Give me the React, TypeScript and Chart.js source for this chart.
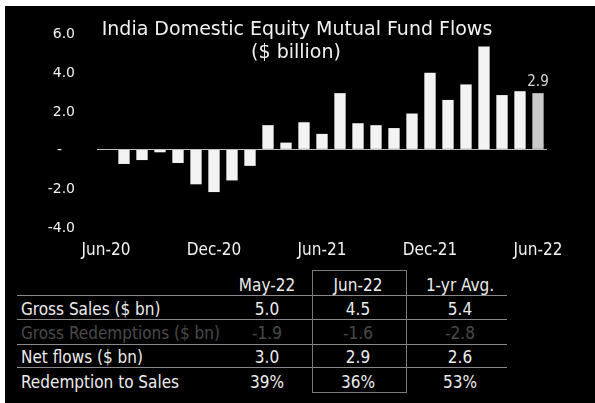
import React, { useEffect, useRef } from "react";
import { Chart, registerables } from "chart.js";

Chart.register(...registerables);

const categories = [
  "Jun-20", "Jul-20", "Aug-20", "Sep-20", "Oct-20", "Nov-20", "Dec-20",
  "Jan-21", "Feb-21", "Mar-21", "Apr-21", "May-21", "Jun-21", "Jul-21",
  "Aug-21", "Sep-21", "Oct-21", "Nov-21", "Dec-21", "Jan-22", "Feb-22",
  "Mar-22", "Apr-22", "May-22", "Jun-22",
];
const netFlows = [
  -0.03, -0.75, -0.55, -0.15, -0.7, -1.8, -2.2, -1.6, -0.85, 1.25, 0.35, 1.4,
  0.8, 2.9, 1.35, 1.25, 1.1, 1.85, 3.95, 2.55, 3.35, 5.3, 2.8, 3.0, 2.9,
];
const titleLines = ["India Domestic Equity Mutual Fund Flows", "($ billion)"];
const lastLabel = "2.9";

const tableColumns = ["May-22", "Jun-22", "1-yr Avg."];
const tableRowLabels = [
  "Gross Sales ($ bn)",
  "Gross Redemptions ($ bn)",
  "Net flows ($ bn)",
  "Redemption to Sales",
];
const grossSales = ["5.0", "4.5", "5.4"];
const grossRedemptions = ["-1.9", "-1.6", "-2.8"];
const netFlowsRow = ["3.0", "2.9", "2.6"];
const redemptionToSales = ["39%", "36%", "53%"];
const tableRows = [grossSales, grossRedemptions, netFlowsRow, redemptionToSales];

const SANS = "'DejaVu Sans', sans-serif";
const COND = "'DejaVu Sans Condensed', 'DejaVu Sans', sans-serif";

export default function App() {
  const canvasRef = useRef<HTMLCanvasElement | null>(null);

  useEffect(() => {
    const canvas = canvasRef.current;
    if (!canvas) return;
    const n = categories.length;
    const overlay = {
      id: "overlay",
      afterDraw(chart: any) {
        const ctx = chart.ctx;
        ctx.save();
        // title
        ctx.fillStyle = "#f2f2f2";
        ctx.textAlign = "center";
        ctx.textBaseline = "alphabetic";
        ctx.font = `19px ${SANS}`;
        ctx.fillText(titleLines[0], 292, 28.5);
        ctx.fillText(titleLines[1], 291, 52);
        // y tick labels
        const ys = chart.scales.y;
        ctx.font = `14px ${SANS}`;
        ys.ticks.forEach((t: any) => {
          const py = ys.getPixelForValue(t.value);
          if (t.value === 0) {
            ctx.textAlign = "center";
            ctx.fillText("-", 54.5, py + 5);
          } else {
            ctx.textAlign = "right";
            ctx.fillText(Number(t.value).toFixed(1), 70, py + 5);
          }
        });
        // x tick labels
        const xs = chart.scales.x;
        ctx.font = `17px ${COND}`;
        ctx.textAlign = "center";
        categories.forEach((c, i) => {
          if (i % 6 === 0) ctx.fillText(c, xs.getPixelForValue(i), 249);
        });
        // last bar label
        const meta = chart.getDatasetMeta(0);
        const bar = meta.data[n - 1];
        ctx.font = `15px ${COND}`;
        ctx.fillStyle = "#d8d8d8";
        ctx.textBaseline = "alphabetic";
        ctx.fillText(lastLabel, bar.x, bar.y - 7);
        ctx.restore();
      },
    };
    const chart = new Chart(canvas, {
      type: "bar",
      data: {
        labels: categories,
        datasets: [
          {
            data: netFlows,
            backgroundColor: categories.map((_, i) => (i === n - 1 ? "#c9c9c9" : "#f3f3f3")),
            borderWidth: 0,
            barPercentage: 0.63,
            categoryPercentage: 1,
          },
        ],
      },
      options: {
        responsive: false,
        animation: false,
        layout: { padding: { top: 27, right: 48, left: 0, bottom: 0 } },
        plugins: { legend: { display: false }, tooltip: { enabled: false }, title: { display: false } },
        scales: {
          x: {
            grid: { display: false },
            border: { display: false },
            ticks: { display: false },
            afterFit: (s: any) => {
              s.height = 39;
            },
          },
          y: {
            min: -4,
            max: 6,
            border: { display: false },
            grid: {
              drawTicks: false,
              color: (c: any) => (c.tick && c.tick.value === 0 ? "#bdbdbd" : "rgba(0,0,0,0)"),
              lineWidth: 1,
            },
            ticks: { display: false, stepSize: 2 },
            afterFit: (s: any) => {
              s.width = 92;
            },
          },
        },
      },
      plugins: [overlay],
    });
    return () => chart.destroy();
  }, []);

  const colCenters = [262, 353, 455];
  const headerY = 279;
  const rowYs = [303.3, 326.7, 351.3, 375.7];
  const lineYs = [289, 313.3, 338, 361.3];
  const textStyle = (color: string): React.CSSProperties => ({
    position: "absolute",
    height: 20,
    lineHeight: "20px",
    fontFamily: COND,
    fontSize: 17,
    color,
    whiteSpace: "nowrap",
  });

  return (
    <div style={{ position: "fixed", left: 0, top: 0, width: 595, height: 403, background: "#ffffff", overflow: "hidden" }}>
      <div style={{ position: "absolute", left: 5, top: 6, width: 590, height: 397, background: "#000000" }}>
        <canvas ref={canvasRef} width={590} height={260} style={{ position: "absolute", left: 0, top: 0, width: 590, height: 260 }} />
        {lineYs.map((y, i) => (
          <div key={"l" + i} style={{ position: "absolute", left: 12, top: y, width: 490, height: 1, background: "#8a8a8a" }} />
        ))}
        <div style={{ position: "absolute", left: 307, top: 264, width: 95, height: 123, border: "1px solid #7a7a7a", boxSizing: "border-box" }} />
        {tableColumns.map((c, j) => (
          <div key={"h" + j} style={{ ...textStyle("#ededed"), left: colCenters[j] - 50, width: 100, textAlign: "center", top: headerY - 10 }}>
            {c}
          </div>
        ))}
        {tableRowLabels.map((label, i) => {
          const color = i === 1 ? "#4a4a4a" : "#ededed";
          return (
            <React.Fragment key={"r" + i}>
              <div style={{ ...textStyle(color), left: 16, top: rowYs[i] - 10 }}>{label}</div>
              {tableRows[i].map((v, j) => (
                <div key={"c" + j} style={{ ...textStyle(color), left: colCenters[j] - 50, width: 100, textAlign: "center", top: rowYs[i] - 10 }}>
                  {v}
                </div>
              ))}
            </React.Fragment>
          );
        })}
      </div>
    </div>
  );
}
